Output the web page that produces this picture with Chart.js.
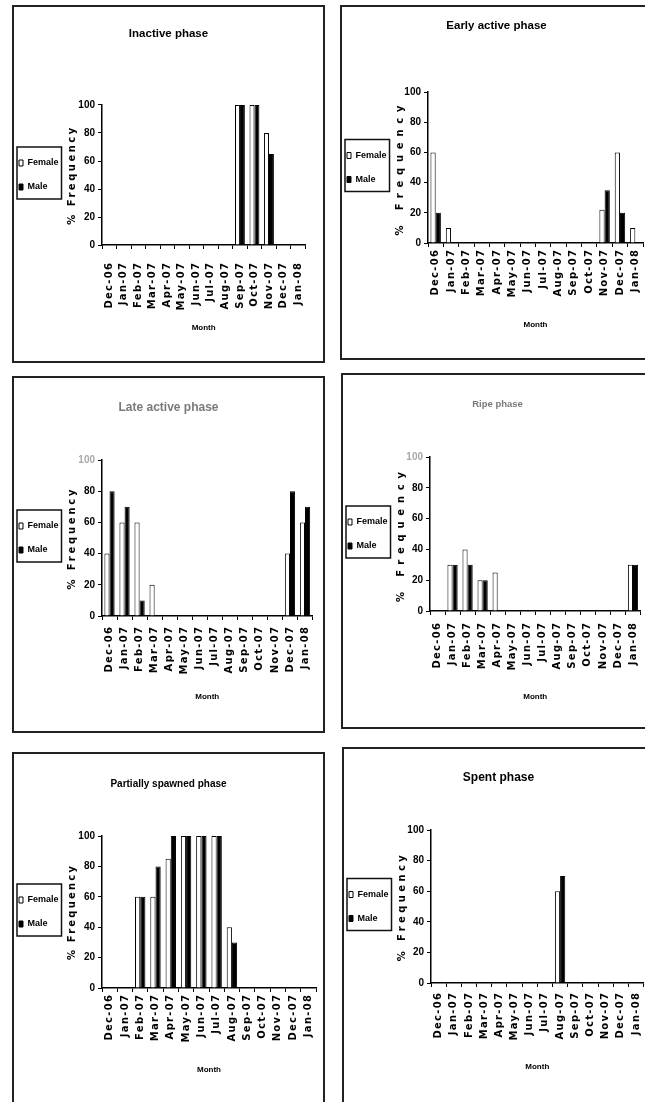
<!DOCTYPE html>
<html>
<head>
<meta charset="utf-8">
<script src="https://cdn.jsdelivr.net/npm/chart.js@4/dist/chart.umd.min.js"></script>
<style>
  html, body { margin: 0; padding: 0; background: #fff; overflow: hidden; width: 645px; height: 1102px; }
  .panel { position: absolute; border: 2px solid #222; background: #fff; }
  .panel canvas { display: block; }
</style>
</head>
<body>
<div class="panel" style="left:12px;top:5px;"><canvas id="c1" width="309" height="354"></canvas></div>
<div class="panel" style="left:340px;top:5px;"><canvas id="c2" width="309" height="351"></canvas></div>
<div class="panel" style="left:12px;top:376px;"><canvas id="c3" width="309" height="353"></canvas></div>
<div class="panel" style="left:341px;top:373px;"><canvas id="c4" width="309" height="352"></canvas></div>
<div class="panel" style="left:12px;top:752px;"><canvas id="c5" width="309" height="354"></canvas></div>
<div class="panel" style="left:342px;top:747px;"><canvas id="c6" width="309" height="354"></canvas></div>

<script>
// Sampling months (Dec 2006 - Jan 2008)
const months = ['Dec-06', 'Jan-07', 'Feb-07', 'Mar-07', 'Apr-07', 'May-07', 'Jun-07',
                'Jul-07', 'Aug-07', 'Sep-07', 'Oct-07', 'Nov-07', 'Dec-07', 'Jan-08'];

// % frequency axis ticks
const yTicks = [0, 20, 40, 60, 80, 100];

// Series labels
const seriesNames = ['Female', 'Male'];

// Gonad maturity stages, % frequency per month
const inactiveFemale = [0, 0, 0, 0, 0, 0, 0, 0, 0, 100, 100, 80, 0, 0];
const inactiveMale   = [0, 0, 0, 0, 0, 0, 0, 0, 0, 100, 100, 65, 0, 0];

const earlyFemale = [60, 10, 0, 0, 0, 0, 0, 0, 0, 0, 0, 22, 60, 10];
const earlyMale   = [20, 0, 0, 0, 0, 0, 0, 0, 0, 0, 0, 35, 20, 0];

const lateFemale = [40, 60, 60, 20, 0, 0, 0, 0, 0, 0, 0, 0, 40, 60];
const lateMale   = [80, 70, 10, 0, 0, 0, 0, 0, 0, 0, 0, 0, 80, 70];

const ripeFemale = [0, 30, 40, 20, 25, 0, 0, 0, 0, 0, 0, 0, 0, 30];
const ripeMale   = [0, 30, 30, 20, 0, 0, 0, 0, 0, 0, 0, 0, 0, 30];

const spawnedFemale = [0, 0, 60, 60, 85, 100, 100, 100, 40, 0, 0, 0, 0, 0];
const spawnedMale   = [0, 0, 60, 80, 100, 100, 100, 100, 30, 0, 0, 0, 0, 0];

const spentFemale = [0, 0, 0, 0, 0, 0, 0, 0, 60, 0, 0, 0, 0, 0];
const spentMale   = [0, 0, 0, 0, 0, 0, 0, 0, 70, 0, 0, 0, 0, 0];

const SANS = "'Liberation Sans', Arial, sans-serif";
const WIDE = "'DejaVu Sans', 'Liberation Sans', sans-serif";

const LEGEND_SIZE = 9;
const YTICK_SIZE = 10;
const MONTH_SIZE = 8;

// Category axis whose tick labels are drawn with extra letter spacing
class SpacedCategoryScale extends Chart.CategoryScale {
  drawLabels(area) {
    const ctx = this.ctx;
    ctx.save();
    ctx.letterSpacing = (this.options.letterSpacing || 0) + 'px';
    super.drawLabels(area);
    ctx.restore();
  }
}
SpacedCategoryScale.id = 'spacedCategory';

// Linear axis whose title is drawn with extra letter spacing
class SpacedLinearScale extends Chart.LinearScale {
  drawTitle() {
    const ctx = this.ctx;
    ctx.save();
    ctx.letterSpacing = (this.options.titleSpacing || 0) + 'px';
    super.drawTitle();
    ctx.restore();
  }
}
SpacedLinearScale.id = 'spacedLinear';
Chart.register(SpacedCategoryScale, SpacedLinearScale);

// Framed box around the legend entries
const legendFrame = {
  id: 'legendFrame',
  afterDraw(chart) {
    const hb = chart.legend && chart.legend.legendHitBoxes;
    if (!hb || !hb.length) return;
    const first = hb[0], last = hb[hb.length - 1];
    const left = first.left - 2;
    const right = Math.max(left + 41, Math.max(...hb.map(b => b.left + b.width)) + 3);
    const top = first.top + first.height / 2 - 16;
    const bottom = last.top + last.height / 2 + 12;
    const ctx = chart.ctx;
    ctx.save();
    ctx.strokeStyle = '#111';
    ctx.lineWidth = 1.5;
    ctx.strokeRect(left, top, right - left, bottom - top);
    ctx.restore();
  }
};

// Panel geometry (canvas pixels) and title sizes
const panels = [
  { id: 'c1', title: 'Inactive phase',          f: inactiveFemale, m: inactiveMale, tSize: 11.5, titleY: 27, top: 98, bottom: 238, axisX: 88, right: 301, monthY: 321, xGap: 18, ySpace: 2.5 },
  { id: 'c2', title: 'Early active phase',      f: earlyFemale,    m: earlyMale,    tSize: 11.5, titleY: 19, top: 85, bottom: 236, axisX: 86, right: 301, monthY: 318, xGap: 7,  ySpace: 5.8 },
  { id: 'c3', title: 'Late active phase',       f: lateFemale,     m: lateMale,     tSize: 12,   titleY: 30, top: 82, bottom: 238, axisX: 88, right: 301, monthY: 319, xGap: 11, ySpace: 2.8, faded: true },
  { id: 'c4', title: 'Ripe phase',              f: ripeFemale,     m: ripeMale,     tSize: 9.5,  titleY: 29, top: 82, bottom: 236, axisX: 87, right: 301, monthY: 322, xGap: 12, ySpace: 5.8, faded: true },
  { id: 'c5', title: 'Partially spawned phase', f: spawnedFemale,  m: spawnedMale,  tSize: 10,   titleY: 30, top: 82, bottom: 234, axisX: 88, right: 302, monthY: 316, xGap: 7,  ySpace: 2.2 },
  { id: 'c6', title: 'Spent phase',             f: spentFemale,    m: spentMale,    tSize: 12,   titleY: 29, top: 81, bottom: 234, axisX: 87, right: 301, monthY: 318, xGap: 10, ySpace: 3.4 }
];

const TICK_LEN = 4;
const X_SPACING = 1.3;
const EDGE = -10;                 // legend box starts just outside the canvas edge
const LEG_PAD = 15, LEG_BOX_W = 4, LEG_BOX_H = 6;
const probe = document.createElement('canvas').getContext('2d');
probe.font = `bold ${LEGEND_SIZE}px ${SANS}`;
const legendTextW = Math.max(...seriesNames.map(n => probe.measureText(n).width));
// legend width: just wide enough for its entries
const LEGEND_W = Math.ceil(LEG_PAD + LEG_BOX_W + LEGEND_SIZE / 2 + legendTextW + 1);
const Y_TITLE_X = 58;
const Y_TITLE_LH = 10 * 1.2;

panels.forEach(p => {
  const canvas = document.getElementById(p.id);
  const W = canvas.width, H = canvas.height;
  const titleLH = p.tSize * 1.2;
  const monthLH = MONTH_SIZE * 1.2;
  const yLeft = EDGE + LEGEND_W;

  new Chart(canvas, {
    type: 'bar',
    data: {
      labels: months,
      datasets: [
        { label: seriesNames[0], data: p.f, backgroundColor: '#ffffff', borderColor: '#000', borderWidth: 1 },
        { label: seriesNames[1], data: p.m, backgroundColor: '#000000', borderColor: '#000', borderWidth: 1 }
      ]
    },
    options: {
      responsive: false,
      animation: false,
      events: [],
      layout: { padding: { left: EDGE, right: EDGE, top: 0, bottom: 0 } },
      datasets: { bar: { categoryPercentage: 0.68, barPercentage: 1.0 } },
      plugins: {
        title: {
          display: true,
          text: p.title,
          color: p.faded ? '#7a7a7a' : '#000',
          font: { family: SANS, size: p.tSize, weight: 'bold', lineHeight: 1.2 },
          padding: { top: p.titleY - titleLH / 2, bottom: p.top - p.titleY - titleLH / 2 }
        },
        legend: {
          position: 'left',
          fullSize: false,
          maxWidth: LEGEND_W,
          labels: {
            boxWidth: LEG_BOX_W, boxHeight: LEG_BOX_H, padding: LEG_PAD, color: '#000',
            font: { family: SANS, size: LEGEND_SIZE, weight: 'bold' }
          }
        },
        tooltip: { enabled: false }
      },
      scales: {
        x: {
          type: 'spacedCategory',
          offset: true,
          letterSpacing: X_SPACING,
          grid: { display: true, offset: true, drawOnChartArea: false, drawTicks: true, tickLength: TICK_LEN, color: '#000', tickColor: '#000' },
          border: { display: true, color: '#000', width: 1.5 },
          ticks: {
            autoSkip: false, minRotation: 90, maxRotation: 90,
            padding: Math.max(p.xGap - TICK_LEN - X_SPACING, 0),
            color: '#000',
            font: { family: WIDE, size: 10, weight: 'bold' }
          },
          title: {
            display: true, text: 'Month', color: '#000',
            font: { family: SANS, size: MONTH_SIZE, weight: 'bold', lineHeight: 1.2 },
            padding: { top: 0, bottom: H - p.monthY - monthLH / 2 }
          },
          afterFit: s => { s.height = H - p.bottom; }
        },
        y: {
          type: 'spacedLinear',
          min: 0, max: 100,
          titleSpacing: p.ySpace,
          afterBuildTicks: s => { s.ticks = yTicks.map(v => ({ value: v })); },
          grid: { display: true, drawOnChartArea: false, drawTicks: true, tickLength: TICK_LEN, color: '#000', tickColor: '#000' },
          border: { display: true, color: '#000', width: 1.5 },
          ticks: {
            padding: 3,
            color: c => (p.faded && c.tick && c.tick.value === 100) ? '#a8a8a8' : '#000',
            font: { family: SANS, size: YTICK_SIZE, weight: 'bold' }
          },
          title: {
            display: true, text: '% Frequency', color: '#000',
            font: { family: WIDE, size: 10, weight: 'bold', lineHeight: 1.2 },
            padding: { top: Math.max(Y_TITLE_X - yLeft - Y_TITLE_LH / 2, 0), bottom: 0 }
          },
          afterFit: s => { s.width = p.axisX - yLeft; }
        },
        gap: {
          type: 'linear',
          axis: 'y',
          position: 'right',
          display: true,
          grid: { display: false },
          border: { display: false },
          ticks: { display: false },
          afterFit: s => { s.width = (W - EDGE) - p.right; }
        }
      }
    },
    plugins: [legendFrame]
  });
});
</script>
</body>
</html>
